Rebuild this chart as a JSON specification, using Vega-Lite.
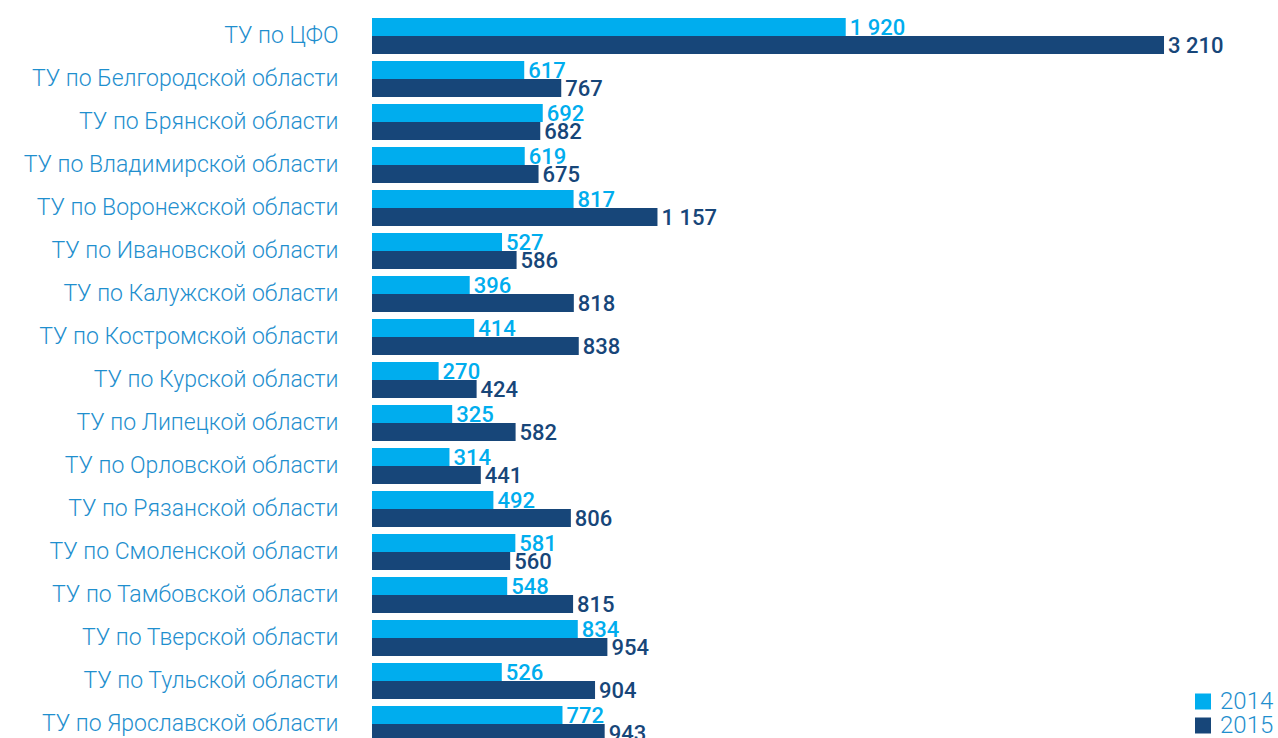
{
  "$schema": "https://vega.github.io/schema/vega-lite/v6.json",
  "width": 906,
  "height": 731,
  "autosize": {"type": "none"},
  "padding": {"left": 372, "top": 14.5, "right": 0, "bottom": 0},
  "background": "white",
  "config": {
    "view": {"stroke": null},
    "font": "Roboto",
    "locale": {"number": {"decimal": ",", "thousands": " ", "grouping": [3], "currency": ["", ""]}}
  },
  "data": {
    "values": [
      {"region": "ТУ по ЦФО", "year": "2014", "value": 1920},
      {"region": "ТУ по ЦФО", "year": "2015", "value": 3210},
      {"region": "ТУ по Белгородской области", "year": "2014", "value": 617},
      {"region": "ТУ по Белгородской области", "year": "2015", "value": 767},
      {"region": "ТУ по Брянской области", "year": "2014", "value": 692},
      {"region": "ТУ по Брянской области", "year": "2015", "value": 682},
      {"region": "ТУ по Владимирской области", "year": "2014", "value": 619},
      {"region": "ТУ по Владимирской области", "year": "2015", "value": 675},
      {"region": "ТУ по Воронежской области", "year": "2014", "value": 817},
      {"region": "ТУ по Воронежской области", "year": "2015", "value": 1157},
      {"region": "ТУ по Ивановской области", "year": "2014", "value": 527},
      {"region": "ТУ по Ивановской области", "year": "2015", "value": 586},
      {"region": "ТУ по Калужской области", "year": "2014", "value": 396},
      {"region": "ТУ по Калужской области", "year": "2015", "value": 818},
      {"region": "ТУ по Костромской области", "year": "2014", "value": 414},
      {"region": "ТУ по Костромской области", "year": "2015", "value": 838},
      {"region": "ТУ по Курской области", "year": "2014", "value": 270},
      {"region": "ТУ по Курской области", "year": "2015", "value": 424},
      {"region": "ТУ по Липецкой области", "year": "2014", "value": 325},
      {"region": "ТУ по Липецкой области", "year": "2015", "value": 582},
      {"region": "ТУ по Орловской области", "year": "2014", "value": 314},
      {"region": "ТУ по Орловской области", "year": "2015", "value": 441},
      {"region": "ТУ по Рязанской области", "year": "2014", "value": 492},
      {"region": "ТУ по Рязанской области", "year": "2015", "value": 806},
      {"region": "ТУ по Смоленской области", "year": "2014", "value": 581},
      {"region": "ТУ по Смоленской области", "year": "2015", "value": 560},
      {"region": "ТУ по Тамбовской области", "year": "2014", "value": 548},
      {"region": "ТУ по Тамбовской области", "year": "2015", "value": 815},
      {"region": "ТУ по Тверской области", "year": "2014", "value": 834},
      {"region": "ТУ по Тверской области", "year": "2015", "value": 954},
      {"region": "ТУ по Тульской области", "year": "2014", "value": 526},
      {"region": "ТУ по Тульской области", "year": "2015", "value": 904},
      {"region": "ТУ по Ярославской области", "year": "2014", "value": 772},
      {"region": "ТУ по Ярославской области", "year": "2015", "value": 943}
    ]
  },
  "encoding": {
    "y": {
      "field": "region", "type": "nominal", "sort": null,
      "scale": {"paddingInner": 0.163, "paddingOuter": 0.0815},
      "axis": {"title": null, "domain": false, "ticks": false, "labelPadding": 34, "labelFontSize": 23, "labelColor": "#1f8fce", "labelFont": "Roboto", "labelFontWeight": 300, "labelLimit": 400, "labelBaseline": "middle", "labelOffset": 0}
    },
    "yOffset": {"field": "year", "type": "nominal"},
    "x": {
      "field": "value", "type": "quantitative",
      "scale": {"domain": [0, 3672], "nice": false, "zero": true},
      "axis": null
    }
  },
  "layer": [
    {
      "mark": {"type": "bar"},
      "encoding": {
        "color": {
          "field": "year", "type": "nominal",
          "scale": {"domain": ["2014", "2015"], "range": ["#00adee", "#174679"]},
          "legend": {
            "title": null, "orient": "none", "legendX": 819, "legendY": 675,
            "symbolType": "square", "symbolSize": 256, "symbolStrokeWidth": 0,
            "labelFontSize": 24, "labelColor": "#1f8fce", "labelFont": "Roboto", "labelFontWeight": 300,
            "rowPadding": 0, "labelOffset": 5
          }
        }
      }
    },
    {
      "mark": {"type": "text", "align": "left", "baseline": "middle", "dx": 4, "dy": 1, "fontSize": 22, "fontWeight": 500, "font": "Roboto"},
      "encoding": {
        "text": {"field": "value", "type": "quantitative", "format": ",d"},
        "color": {"field": "year", "type": "nominal", "legend": null}
      }
    }
  ]
}
